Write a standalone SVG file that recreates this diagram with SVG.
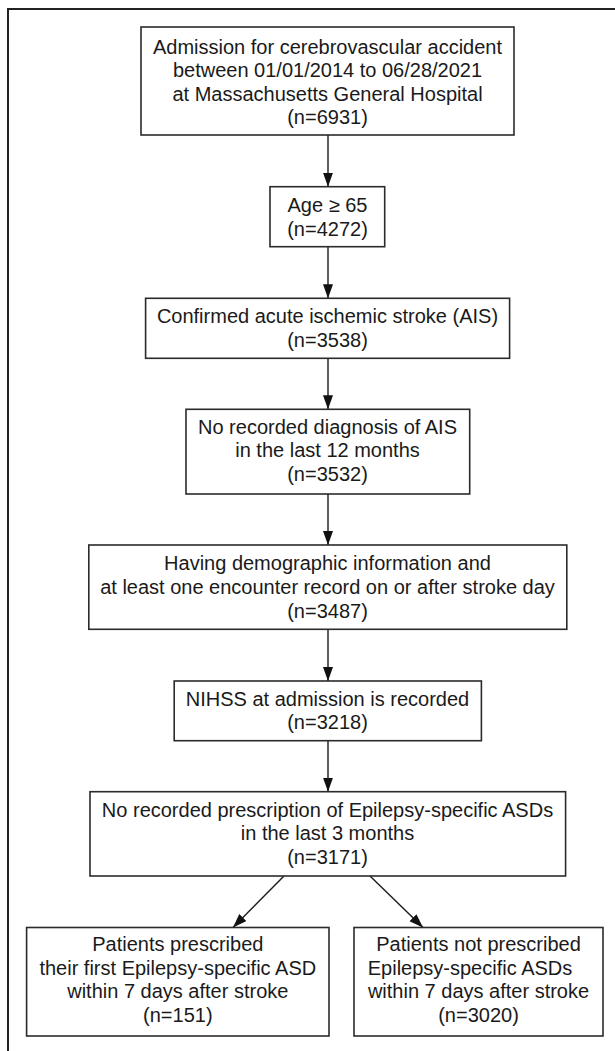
<svg xmlns="http://www.w3.org/2000/svg" width="615" height="1051" viewBox="0 0 615 1051">
<style>
.box{fill:#fff;stroke:#2b2b2b;stroke-width:1.6}
.t{font-family:"Liberation Sans",Arial,Helvetica,sans-serif;font-size:20px;fill:#1a1a1a;text-anchor:middle}
.c{stroke:#1a1a1a;stroke-width:1.4;fill:none;marker-end:url(#ah)}
.frame{stroke:#222;stroke-width:2;fill:none}
</style>
<defs>
<marker id="ah" markerUnits="userSpaceOnUse" markerWidth="15" markerHeight="11" refX="14" refY="5" orient="auto">
<path d="M0,0 L14,5 L0,10 z" fill="#111"/>
</marker>
</defs>
<rect width="615" height="1051" fill="#fff"/>
<path class="frame" d="M8,1051 L8,9 L615,9"/>
<g id="connectors">
<line class="c" x1="328" y1="135" x2="328" y2="186.7"/>
<line class="c" x1="328" y1="246.7" x2="328" y2="298.3"/>
<line class="c" x1="328" y1="358.3" x2="328" y2="409.3"/>
<line class="c" x1="328" y1="494" x2="328" y2="545"/>
<line class="c" x1="328" y1="629.3" x2="328" y2="681"/>
<line class="c" x1="328" y1="740.7" x2="328" y2="791.7"/>
<line class="c" x1="284" y1="876" x2="233" y2="927.5"/>
<line class="c" x1="370" y1="876" x2="423" y2="927.5"/>
</g>
<g id="n1">
<rect class="box" x="141" y="27" width="373" height="108"/>
<text class="t" x="327.5" y="53.5">Admission for cerebrovascular accident</text>
<text class="t" x="327.5" y="77">between 01/01/2014 to 06/28/2021</text>
<text class="t" x="327.5" y="100.5">at Massachusetts General Hospital</text>
<text class="t" x="327.5" y="124">(n=6931)</text>
</g>
<g id="n2">
<rect class="box" x="270" y="186.7" width="114.7" height="60"/>
<text class="t" x="327.5" y="211.5">Age ≥ 65</text>
<text class="t" x="327.5" y="235.5">(n=4272)</text>
</g>
<g id="n3">
<rect class="box" x="145.6" y="298.3" width="364" height="60"/>
<text class="t" x="327.5" y="323.3">Confirmed acute ischemic stroke (AIS)</text>
<text class="t" x="327.5" y="346.8">(n=3538)</text>
</g>
<g id="n4">
<rect class="box" x="186" y="409.3" width="283.7" height="84.7"/>
<text class="t" x="327.5" y="433.5">No recorded diagnosis of AIS</text>
<text class="t" x="327.5" y="457">in the last 12 months</text>
<text class="t" x="327.5" y="480.5">(n=3532)</text>
</g>
<g id="n5">
<rect class="box" x="88.8" y="545" width="478" height="84.3"/>
<text class="t" x="327.5" y="570">Having demographic information and</text>
<text class="t" x="327.5" y="594">at least one encounter record on or after stroke day</text>
<text class="t" x="327.5" y="618">(n=3487)</text>
</g>
<g id="n6">
<rect class="box" x="174.2" y="681" width="307.2" height="59.7"/>
<text class="t" x="327.5" y="705.5">NIHSS at admission is recorded</text>
<text class="t" x="327.5" y="729">(n=3218)</text>
</g>
<g id="n7">
<rect class="box" x="90" y="791.7" width="475.6" height="84.3"/>
<text class="t" x="327.5" y="816.5">No recorded prescription of Epilepsy-specific ASDs</text>
<text class="t" x="327.5" y="840">in the last 3 months</text>
<text class="t" x="327.5" y="863.5">(n=3171)</text>
</g>
<g id="n8">
<rect class="box" x="26.6" y="927.5" width="302.4" height="108.5"/>
<text class="t" x="177.8" y="951">Patients prescribed</text>
<text class="t" x="177.8" y="974.5">their first Epilepsy-specific ASD</text>
<text class="t" x="177.8" y="998">within 7 days after stroke</text>
<text class="t" x="177.8" y="1021.5">(n=151)</text>
</g>
<g id="n9">
<rect class="box" x="354" y="927.5" width="249" height="108.5"/>
<text class="t" x="478.5" y="951">Patients not prescribed</text>
<text class="t" x="470" y="974.5">Epilepsy-specific ASDs</text>
<text class="t" x="478.5" y="998">within 7 days after stroke</text>
<text class="t" x="478.5" y="1021.5">(n=3020)</text>
</g>
</svg>
